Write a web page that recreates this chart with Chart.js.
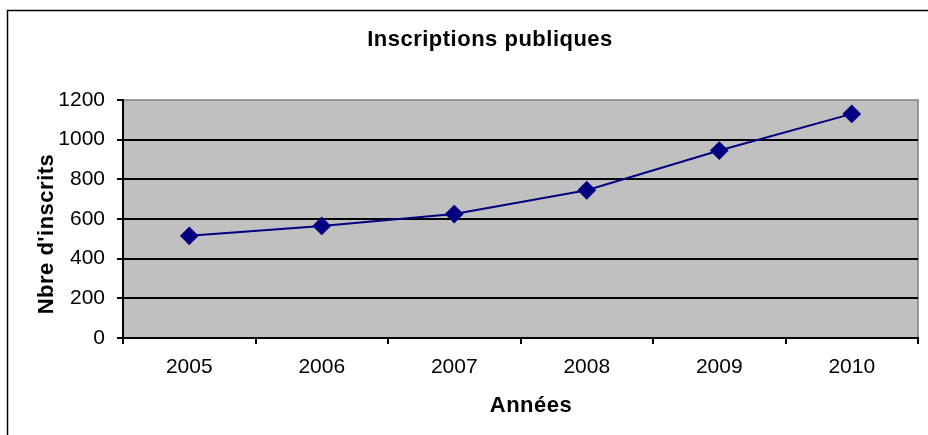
<!DOCTYPE html>
<html>
<head>
<meta charset="utf-8">
<script src="https://cdn.jsdelivr.net/npm/chart.js@4/dist/chart.umd.min.js"></script>
<style>
  html, body { margin: 0; padding: 0; background: #fff; }
  #wrap { width: 928px; height: 435px; }
</style>
</head>
<body>
<div id="wrap"><canvas id="chart"></canvas></div>
<script>
const annees = ['2005', '2006', '2007', '2008', '2009', '2010'];
const inscrits = [515, 565, 625, 745, 945, 1130];
const yTicks = [0, 200, 400, 600, 800, 1000, 1200];

const titre = 'Inscriptions publiques';
const titreX = 'Années';
const titreY = "Nbre d'inscrits";

const FONT = "'Liberation Sans', Arial, sans-serif";

// fond gris de la zone de tracé, cadre du graphique et titres
const cadre = {
  id: 'cadre',
  beforeDraw(chart) {
    const { ctx, chartArea: a } = chart;
    ctx.save();
    ctx.fillStyle = '#fff';
    ctx.fillRect(0, 0, chart.width, chart.height);
    ctx.strokeStyle = '#000';
    ctx.lineWidth = 1.5;
    ctx.strokeRect(7.5, 10.5, chart.width + 20, chart.height + 20);
    ctx.fillStyle = '#c0c0c0';
    ctx.fillRect(a.left, a.top, a.right - a.left, a.bottom - a.top);
    ctx.strokeStyle = '#808080';
    ctx.lineWidth = 1.5;
    ctx.beginPath();
    ctx.moveTo(a.left, a.top);
    ctx.lineTo(a.right, a.top);
    ctx.lineTo(a.right, a.bottom);
    ctx.stroke();
    ctx.restore();
  },
  afterDraw(chart) {
    const { ctx } = chart;
    ctx.save();
    ctx.fillStyle = '#000';
    ctx.font = 'bold 22px ' + FONT;
    ctx.letterSpacing = '0.5px';
    ctx.textAlign = 'center';
    ctx.textBaseline = 'alphabetic';
    ctx.fillText(titre, 490, 46);
    ctx.fillText(titreX, 531, 412);
    ctx.translate(53, 234);
    ctx.rotate(-Math.PI / 2);
    ctx.fillText(titreY, 0, 0);
    ctx.restore();
  }
};

new Chart(document.getElementById('chart'), {
  type: 'line',
  data: {
    labels: annees,
    datasets: [{
      label: titreY,
      data: inscrits,
      borderColor: '#000080',
      backgroundColor: '#000080',
      borderWidth: 2,
      pointStyle: 'rectRot',
      pointRadius: 8,
      pointHoverRadius: 8,
      tension: 0
    }]
  },
  options: {
    responsive: true,
    maintainAspectRatio: false,
    animation: false,
    layout: {
      padding: { left: 0, right: 6, top: 100, bottom: 0 }
    },
    plugins: {
      legend: { display: false },
      tooltip: { enabled: false },
      title: { display: false }
    },
    scales: {
      x: {
        offset: true,
        afterFit: s => { s.height = 97; },
        border: { color: '#000', width: 2 },
        grid: {
          drawOnChartArea: false,
          drawTicks: true,
          tickLength: 6,
          tickColor: '#000',
          lineWidth: 2,
          offset: true
        },
        ticks: {
          color: '#000',
          font: { family: FONT, size: 21 },
          padding: 11,
          maxRotation: 0
        }
      },
      y: {
        min: 0,
        max: 1200,
        afterFit: s => { s.width = 123; },
        afterBuildTicks: s => { s.ticks = yTicks.map(v => ({ value: v })); },
        border: { color: '#000', width: 2 },
        grid: {
          color: c => (c.tick && c.tick.value === 1200) ? 'rgba(0,0,0,0)' : '#000',
          tickColor: '#000',
          lineWidth: 2,
          tickLength: 6
        },
        ticks: {
          color: '#000',
          font: { family: FONT, size: 21 },
          padding: 12,
          callback: v => String(v)
        }
      }
    }
  },
  plugins: [cadre]
});
</script>
</body>
</html>
